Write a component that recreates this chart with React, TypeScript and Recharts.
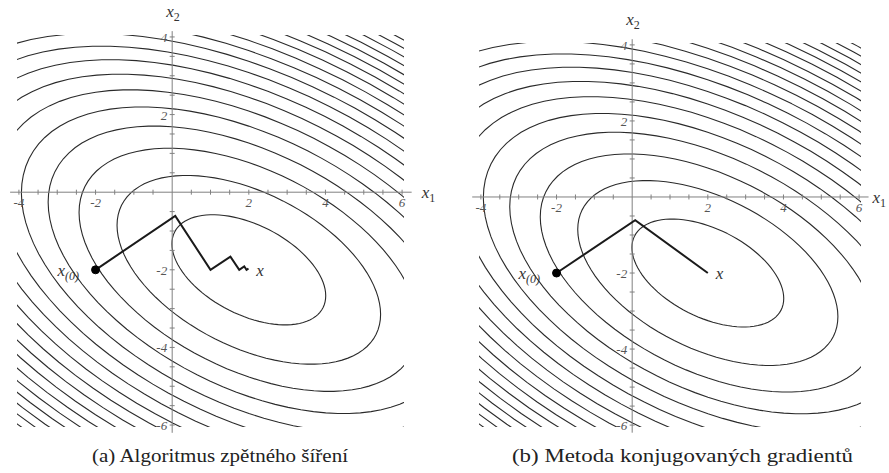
import React from 'react';
import { ComposedChart, Line, XAxis, YAxis, ReferenceLine, ReferenceDot } from 'recharts';

// Quadratic form f(x) = ½ xᵀA x − bᵀx; contours are level sets measured from its minimum
const matrixA = [3, 2, 2, 6]; // a11, a12, a21, a22
const vectorB = [2, -8];
const contourLevels = [
  4.7, 13.8, 22.9, 32.0, 41.1, 50.2, 59.3, 68.4, 77.5, 86.6,
  95.7, 104.8, 113.9, 123.0, 132.1, 141.2, 150.3, 159.4, 168.5, 177.6,
];

// Iterates of the two minimisation methods
const steepestX = [-2, 0.08, 1.0, 1.52, 1.75, 1.88, 1.94, 1.97, 1.985];
const steepestY = [-2, -0.61, -2.0, -1.66, -2.0, -1.91, -2.0, -1.98, -2.0];
const conjugateX = [-2, 0.08, 2];
const conjugateY = [-2, -0.61, -2];

// Axis decorations
const xTickLabels = [-4, -2, 2, 4, 6];
const yTickLabels = [4, 2, -2, -4, -6];
const xMinorTicks = [-4, -3.5, -3, -2.5, -2, -1.5, -1, -0.5, 0.5, 1, 1.5, 2, 2.5, 3, 3.5, 4, 4.5, 5, 5.5, 6];
const yMinorTicks = [-6, -5.5, -5, -4.5, -4, -3.5, -3, -2.5, -2, -1.5, -1, -0.5, 0.5, 1, 1.5, 2, 2.5, 3, 3.5, 4];
const xAxisSpan = [-4.23, 6.25];
const yAxisSpan = [-6.2, 4.15];
const plotDomainX = [-4.05, 6.05];
const plotDomainY = [-6.05, 4.05];

const captions = ['(a) Algoritmus zpětného šíření', '(b) Metoda konjugovaných gradientů'];

const SAMPLES = 96;

function levelCurve(level: number) {
  const [a11, a12, , a22] = matrixA;
  const det = a11 * a22 - a12 * a12;
  const cx = (a22 * vectorB[0] - a12 * vectorB[1]) / det;
  const cy = (-a12 * vectorB[0] + a11 * vectorB[1]) / det;
  const half = (a11 + a22) / 2;
  const disc = Math.sqrt(((a11 - a22) / 2) ** 2 + a12 * a12);
  const l1 = half + disc;
  const l2 = half - disc;
  const n = Math.hypot(a12, l1 - a11);
  const v1 = [a12 / n, (l1 - a11) / n];
  const v2 = [-v1[1], v1[0]];
  const r1 = Math.sqrt((2 * level) / l1);
  const r2 = Math.sqrt((2 * level) / l2);
  const pts: { x: number; y: number }[] = [];
  for (let k = 0; k <= SAMPLES; k++) {
    const t = (2 * Math.PI * k) / SAMPLES;
    const a = r1 * Math.cos(t);
    const b = r2 * Math.sin(t);
    pts.push({ x: cx + a * v1[0] + b * v2[0], y: cy + a * v1[1] + b * v2[1] });
  }
  return pts;
}

const contours = contourLevels.map(levelCurve);
const zip = (xs: number[], ys: number[]) => xs.map((x, i) => ({ x, y: ys[i] }));

const serif = '"Liberation Serif", "DejaVu Serif", serif';
const axisGray = '#808080';
const labelGray = '#555';

type PanelProps = {
  left: number;
  width: number;
  margin: { top: number; right: number; bottom: number; left: number };
  path: { x: number; y: number }[];
  x1Gap: number;
};

function Panel({ left, width, margin, path, x1Gap }: PanelProps) {
  const start = path[0];
  const end = path[path.length - 1];
  return (
    <div style={{ position: 'absolute', left, top: 0 }}>
      <ComposedChart width={width} height={445} margin={margin}>
        <XAxis type="number" dataKey="x" domain={plotDomainX} allowDataOverflow hide />
        <YAxis type="number" dataKey="y" domain={plotDomainY} allowDataOverflow hide />

        {contours.map((pts, i) => (
          <Line
            key={`c${i}`}
            data={pts}
            dataKey="y"
            stroke="#2a2a2a"
            strokeWidth={1.1}
            dot={false}
            activeDot={false}
            isAnimationActive={false}
            type="linear"
          />
        ))}

        <ReferenceLine
          segment={[{ x: xAxisSpan[0], y: 0 }, { x: xAxisSpan[1], y: 0 }]}
          stroke={axisGray}
          strokeWidth={1}
          ifOverflow="visible"
        />
        <ReferenceLine
          segment={[{ x: 0, y: yAxisSpan[0] }, { x: 0, y: yAxisSpan[1] }]}
          stroke={axisGray}
          strokeWidth={1}
          ifOverflow="visible"
        />

        {xMinorTicks.map((v) => (
          <ReferenceDot
            key={`xt${v}`}
            x={v}
            y={0}
            ifOverflow="visible"
            shape={(p: any) => (
              <line x1={p.cx} x2={p.cx} y1={p.cy - 2.5} y2={p.cy + 2.5} stroke={axisGray} strokeWidth={1} />
            )}
          />
        ))}
        {yMinorTicks.map((v) => (
          <ReferenceDot
            key={`yt${v}`}
            x={0}
            y={v}
            ifOverflow="visible"
            shape={(p: any) => (
              <line x1={p.cx - 2.5} x2={p.cx + 2.5} y1={p.cy} y2={p.cy} stroke={axisGray} strokeWidth={1} />
            )}
          />
        ))}

        {xTickLabels.map((v) => (
          <ReferenceDot
            key={`xl${v}`}
            x={v}
            y={0}
            ifOverflow="visible"
            shape={(p: any) => (
              <text x={p.cx} y={p.cy + 15} textAnchor="middle" fontFamily={serif} fontStyle="italic" fontSize={13} fill={labelGray}>
                {v}
              </text>
            )}
          />
        ))}
        {yTickLabels.map((v) => (
          <ReferenceDot
            key={`yl${v}`}
            x={0}
            y={v}
            ifOverflow="visible"
            shape={(p: any) => (
              <text x={p.cx - 5} y={p.cy + 5} textAnchor="end" fontFamily={serif} fontStyle="italic" fontSize={13} fill={labelGray}>
                {v}
              </text>
            )}
          />
        ))}

        <ReferenceDot
          x={xAxisSpan[1]}
          y={0}
          ifOverflow="visible"
          shape={(p: any) => (
            <text x={p.cx + x1Gap} y={p.cy + 6} fontFamily={serif} fontStyle="italic" fontSize={17} fill="#333">
              x<tspan fontStyle="normal" fontSize={12} dy={4}>1</tspan>
            </text>
          )}
        />
        <ReferenceDot
          x={0}
          y={yAxisSpan[1]}
          ifOverflow="visible"
          shape={(p: any) => (
            <text x={p.cx - 6} y={p.cy - 14} fontFamily={serif} fontStyle="italic" fontSize={17} fill="#333">
              x<tspan fontStyle="normal" fontSize={12} dy={4}>2</tspan>
            </text>
          )}
        />

        <Line
          data={path}
          dataKey="y"
          stroke="#1a1a1a"
          strokeWidth={2}
          dot={false}
          activeDot={false}
          isAnimationActive={false}
          type="linear"
        />
        <ReferenceDot x={start.x} y={start.y} r={4} fill="#000" stroke="#000" ifOverflow="visible" />
        <ReferenceDot
          x={start.x}
          y={start.y}
          ifOverflow="visible"
          shape={(p: any) => (
            <text x={p.cx - 38} y={p.cy + 6} fontFamily={serif} fontStyle="italic" fontSize={17} fill="#333">
              x<tspan fontSize={12} dy={4}>(0)</tspan>
            </text>
          )}
        />
        <ReferenceDot
          x={end.x}
          y={end.y}
          ifOverflow="visible"
          shape={(p: any) => (
            <text x={p.cx + 8} y={p.cy + 6} fontFamily={serif} fontStyle="italic" fontSize={17} fill="#333">
              x
            </text>
          )}
        />
      </ComposedChart>
    </div>
  );
}

export default function App() {
  return (
    <div style={{ position: 'absolute', left: 0, top: 0, width: 889, height: 473, background: '#fff', overflow: 'hidden' }}>
      <Panel
        left={0}
        width={440}
        margin={{ top: 35, right: 36, bottom: 18, left: 17 }}
        path={zip(steepestX, steepestY)}
        x1Gap={10}
      />
      <Panel
        left={440}
        width={449}
        margin={{ top: 43, right: 28, bottom: 18, left: 39 }}
        path={zip(conjugateX, conjugateY)}
        x1Gap={4}
      />
      <svg width={889} height={33} style={{ position: 'absolute', left: 0, top: 440 }}>
        <text x={92} y={22} fontFamily={serif} fontSize={18} fill="#222" textLength={256} lengthAdjust="spacingAndGlyphs">
          {captions[0]}
        </text>
        <text x={512} y={22} fontFamily={serif} fontSize={18} fill="#222" textLength={341} lengthAdjust="spacingAndGlyphs">
          {captions[1]}
        </text>
      </svg>
    </div>
  );
}
